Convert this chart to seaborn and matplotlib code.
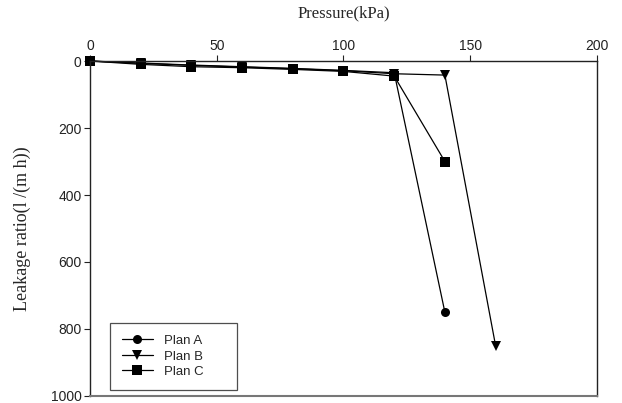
import pandas as pd
import seaborn as sns
import matplotlib.pyplot as plt

pressure_a = [0, 20, 40, 60, 80, 100, 120, 140]
leak_a = [0, 6, 12, 17, 22, 28, 35, 750]
pressure_b = [0, 20, 40, 60, 80, 100, 120, 140, 160]
leak_b = [0, 7, 13, 18, 23, 29, 38, 42, 850]
pressure_c = [0, 20, 40, 60, 80, 100, 120, 140]
leak_c = [0, 10, 17, 20, 25, 31, 45, 300]
plans = ['Plan A', 'Plan B', 'Plan C']

df = pd.concat([
    pd.DataFrame({'pressure': pressure_a, 'leak': leak_a, 'plan': plans[0]}),
    pd.DataFrame({'pressure': pressure_b, 'leak': leak_b, 'plan': plans[1]}),
    pd.DataFrame({'pressure': pressure_c, 'leak': leak_c, 'plan': plans[2]}),
])

sns.set_style('ticks')
plt.rcParams['font.family'] = ['Liberation Sans', 'DejaVu Sans']

fig = plt.figure(figsize=(6.22, 4.03), dpi=100)
ax = fig.add_axes([0.1447, 0.0174, 0.8151, 0.8312])

sns.lineplot(data=df, x='pressure', y='leak', style='plan', markers=['o', 'v', 's'],
             dashes=False, color='black', sort=False, linewidth=0.9,
             markersize=6.5, markeredgewidth=0, ax=ax)
for ln in ax.lines:
    ln.set_clip_on(False)

ax.set_xlim(0, 200)
ax.set_ylim(1000, 0)
ax.set_xticks([0, 50, 100, 150, 200])
ax.set_yticks([0, 200, 400, 600, 800, 1000])
ax.xaxis.tick_top()
ax.xaxis.set_label_position('top')
ax.tick_params(axis='both', labelsize=10, length=4, width=0.8, colors='#222222', pad=2)
for s in ['left', 'right', 'top']:
    ax.spines[s].set_color('#222222')
    ax.spines[s].set_linewidth(1.0)
ax.spines['bottom'].set_color('#777777')
ax.spines['bottom'].set_linewidth(1.5)

ax.set_xlabel('Pressure(kPa)', family='Liberation Serif', fontsize=12, labelpad=15)
ax.set_ylabel('Leakage ratio(l /(m h))', family='Liberation Serif', fontsize=13, labelpad=14)

leg = ax.legend(title=None, loc='lower left', bbox_to_anchor=(0.039, 0.018, 0.25, 0.2),
                mode='expand', fontsize=9.5, frameon=True, fancybox=False,
                edgecolor='#222222', handlelength=2.4, labelspacing=0.25,
                borderpad=0.9, borderaxespad=0)
leg.get_frame().set_linewidth(0.9)

fig.savefig('out.png', dpi=100)
